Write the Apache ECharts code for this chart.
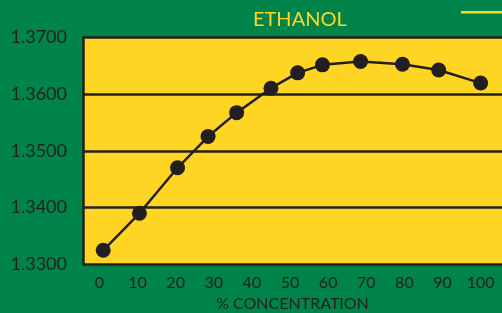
<!DOCTYPE html>
<html>
<head>
<meta charset="utf-8">
<script src="https://cdn.jsdelivr.net/npm/echarts@6/dist/echarts.min.js"></script>
<style>
  html, body { margin: 0; padding: 0; background: #00844a; }
  #chart { width: 502px; height: 313px; }
</style>
</head>
<body>
<div id="chart"></div>
<script>
// concentration (%) and refractive index
const concentration = [1, 10.5, 20.5, 28.5, 36, 45, 52, 58.5, 68.5, 79.5, 89, 100]
const refractiveIndex = [1.3325, 1.3390, 1.3470, 1.3525, 1.3567, 1.3610, 1.3637, 1.3651, 1.3657, 1.3652, 1.3642, 1.3619]
const xTicks = [0, 10, 20, 30, 40, 50, 60, 70, 80, 90, 100]

const ink = '#231f20'
const yellow = '#fed524'

const chart = echarts.init(document.getElementById('chart'))
chart.setOption({
  backgroundColor: '#00844a',
  textStyle: { fontFamily: 'Lato' },
  title: {
    text: 'ETHANOL',
    left: 248,
    top: 5,
    textStyle: { color: yellow, fontSize: 20, fontWeight: 'normal', fontFamily: 'Lato' }
  },
  // little yellow key line at the top right
  graphic: [
    { type: 'rect', shape: { x: 461, y: 11, width: 45, height: 2.5 }, style: { fill: yellow } }
  ],
  grid: {
    left: 83,
    right: 0,
    top: 37,
    bottom: 48.5,
    outerBoundsMode: 'none',
    containLabel: false,
    show: true,
    backgroundColor: '#ffd524',
    borderWidth: 0
  },
  xAxis: {
    type: 'value',
    min: -4.3,
    max: 105.6,
    name: '% CONCENTRATION',
    nameLocation: 'middle',
    nameGap: 29,
    nameTextStyle: { color: ink, fontSize: 16, fontFamily: 'Lato', verticalAlign: 'top' },
    axisLine: { show: false },
    axisTick: { show: false },
    splitLine: { show: false },
    axisLabel: {
      customValues: xTicks,
      color: ink,
      fontSize: 16,
      margin: 10,
      fontFamily: 'Lato'
    }
  },
  yAxis: {
    type: 'value',
    min: 1.33,
    max: 1.37,
    interval: 0.01,
    axisLine: { show: true, onZero: false, lineStyle: { color: ink, width: 2.5 } },
    axisTick: { show: false },
    splitLine: { show: true, lineStyle: { color: ink, width: 2.5 } },
    axisLabel: {
      color: ink,
      fontSize: 18,
      margin: 16,
      fontFamily: 'Lato',
      formatter: v => v.toFixed(4)
    }
  },
  series: [
    {
      name: 'Ethanol',
      type: 'line',
      data: concentration.map((c, i) => [c, refractiveIndex[i]]),
      symbol: 'circle',
      symbolSize: 15,
      lineStyle: { color: ink, width: 2.5 },
      itemStyle: { color: ink },
      z: 5
    }
  ]
})
</script>
</body>
</html>
